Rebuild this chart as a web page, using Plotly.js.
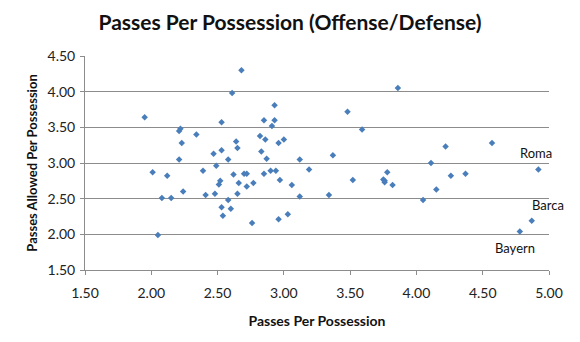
<!DOCTYPE html>
<html>
<head>
<meta charset="utf-8">
<script src="https://cdn.plot.ly/plotly-3.0.1.min.js"></script>
<style>html,body{margin:0;padding:0;background:#fff;}#chart{width:580px;height:342px;}</style>
</head>
<body>
<div id="chart"></div>
<script>
// Passes per possession (offense) vs passes allowed per possession (defense)
const offense = [
  2.68, 2.61, 1.95, 2.53, 2.22, 2.21, 2.34, 2.23, 2.64, 2.65,
  2.47, 2.53, 2.58, 2.21, 2.01, 2.12, 2.39, 2.49, 2.62, 2.52,
  2.51, 2.66, 2.24, 2.08, 2.15, 2.41, 2.48, 2.65, 2.58, 2.53,
  2.60, 2.54, 2.05,
  2.93, 3.48, 2.85, 2.93, 2.91, 3.59, 2.82, 2.86, 3.00, 2.96,
  2.83, 2.87, 3.12, 3.37, 2.70, 2.72, 2.85, 2.90, 2.94, 3.19,
  2.72, 2.77, 2.97, 3.06, 3.12, 3.34, 2.76, 2.96, 3.03, 3.52,
  3.75, 3.76, 3.76, 3.78, 3.82,
  3.86, 4.22, 4.57, 4.11, 4.26, 4.37, 4.15, 4.05, 4.92, 4.87, 4.78
];
const defense = [
  4.30, 3.98, 3.64, 3.57, 3.48, 3.45, 3.40, 3.28, 3.30, 3.21,
  3.13, 3.18, 3.05, 3.05, 2.87, 2.82, 2.89, 2.96, 2.84, 2.75,
  2.70, 2.72, 2.60, 2.51, 2.51, 2.55, 2.57, 2.57, 2.48, 2.38,
  2.36, 2.26, 1.99,
  3.81, 3.72, 3.60, 3.60, 3.52, 3.47, 3.38, 3.33, 3.33, 3.28,
  3.16, 3.06, 3.05, 3.11, 2.85, 2.85, 2.85, 2.89, 2.89, 2.91,
  2.67, 2.72, 2.76, 2.69, 2.53, 2.55, 2.16, 2.21, 2.28, 2.76,
  2.77, 2.75, 2.73, 2.87, 2.69,
  4.05, 3.23, 3.28, 3.00, 2.82, 2.85, 2.63, 2.48, 2.91, 2.19, 2.04
];
const labelNames = ['Roma', 'Barca', 'Bayern'];
const labelIndex = [76, 77, 78];
const tickVals = [1.5, 2.0, 2.5, 3.0, 3.5, 4.0, 4.5, 5.0];
const tickText = ['1.50', '2.00', '2.50', '3.00', '3.50', '4.00', '4.50', '5.00'];

const FONT = 'Lato, "Open Sans", sans-serif';
const labelShift = [[-2, 16], [16, 16], [-5, -17]];

const annotations = labelNames.map((name, i) => ({
  x: offense[labelIndex[i]],
  y: defense[labelIndex[i]],
  xref: 'x', yref: 'y',
  text: name,
  showarrow: false,
  xshift: labelShift[i][0],
  yshift: labelShift[i][1],
  font: {family: FONT, size: 13, color: '#111'}
}));

const trace = {
  x: offense,
  y: defense,
  type: 'scatter',
  mode: 'markers',
  marker: {symbol: 'diamond', size: 5, color: '#4a7ebb'},
  hoverinfo: 'x+y'
};

const axisCommon = {
  showline: true,
  linecolor: '#8c8c8c',
  linewidth: 1,
  ticks: 'outside',
  ticklen: 4,
  tickcolor: '#8c8c8c',
  tickfont: {family: FONT, size: 14, color: '#222'},
  zeroline: false,
  mirror: false
};

const layout = {
  width: 580,
  height: 342,
  margin: {l: 85, r: 31, t: 56, b: 72},
  paper_bgcolor: '#fff',
  plot_bgcolor: '#fff',
  showlegend: false,
  title: {
    text: '<b>Passes Per Possession (Offense/Defense)</b>',
    font: {family: FONT, size: 21, color: '#111'},
    x: 0.5, xanchor: 'center', y: 0.935, yanchor: 'middle'
  },
  xaxis: Object.assign({}, axisCommon, {
    range: [1.5, 5.0],
    tickvals: tickVals,
    ticktext: tickText,
    showgrid: false,
    ticklabelstandoff: 6,
    title: {text: '<b>Passes Per Possession</b>', font: {family: FONT, size: 14, color: '#111'}, standoff: 16}
  }),
  yaxis: Object.assign({}, axisCommon, {
    range: [1.5, 4.5],
    tickvals: tickVals.slice(0, 7),
    ticktext: tickText.slice(0, 7),
    showgrid: true,
    gridcolor: '#8c8c8c',
    gridwidth: 1,
    ticklabelstandoff: 2,
    title: {text: '<b>Passes Allowed Per Possession</b>', font: {family: FONT, size: 13, color: '#111'}, standoff: 6}
  }),
  annotations: annotations
};

Plotly.newPlot('chart', [trace], layout, {displayModeBar: false, staticPlot: true});
</script>
</body>
</html>
